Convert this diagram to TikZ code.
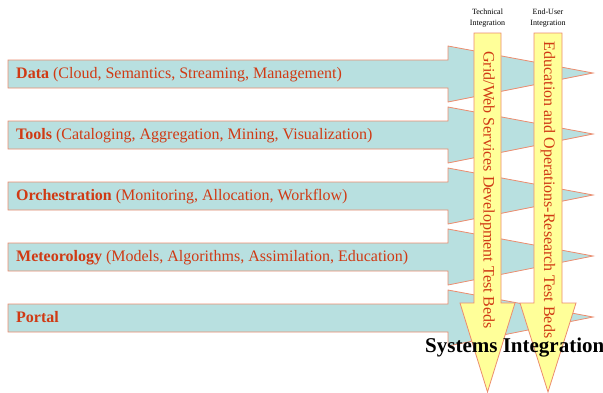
\documentclass[tikz,border=0pt]{standalone}
\usepackage{fontspec}
\setmainfont{Liberation Serif}
\usepackage{tikz}
\usepackage{color}

\definecolor{bandfill}{RGB}{184,224,224}
\definecolor{edgecol}{RGB}{236,140,110}
\definecolor{bedfill}{RGB}{255,255,153}
\definecolor{labelred}{RGB}{208,58,20}

\begin{document}
\begin{tikzpicture}[x=1pt,y=-1pt,
    band/.style={fill=bandfill,draw=edgecol,line width=0.8pt},
    bed/.style={fill=bedfill,draw=edgecol,line width=0.8pt},
    bandtext/.style={anchor=base west,inner sep=0pt,text=labelred,font=\fontsize{16}{18}\selectfont},
    bedtext/.style={rotate=-90,inner sep=0pt,text=labelred,font=\fontsize{16}{18}\selectfont},
    toptext/.style={align=center,inner sep=0pt,text=black,font=\fontsize{8}{11}\selectfont}]
    \useasboundingbox (0,0) rectangle (603,392);
    % horizontal arrows, one per area
    \foreach \y/\name/\head/\rest in {
        74/data/Data/{(Cloud, Semantics, Streaming, Management)},
        135/tools/Tools/{(Cataloging, Aggregation, Mining, Visualization)},
        196/orch/Orchestration/{(Monitoring, Allocation, Workflow)},
        257/meteo/Meteorology/{(Models, Algorithms, Assimilation, Education)},
        318/portal/Portal/{}}
    {
        \draw[band] (8,\y-14) -- (448,\y-14) -- (448,\y-28) -- (593,\y-1)
            -- (448,\y+28) -- (448,\y+14) -- (8,\y+14) -- cycle;
        \node[bandtext] (\name) at (16,\y+4.5) {\textbf{\head} \rest};
    }
    % vertical arrows for the test beds
    \draw[bed] (474,33) -- (501,33) -- (501,303) -- (515,303) -- (487.5,392)
        -- (460,303) -- (474,303) -- cycle;
    \draw[bed] (534,33) -- (562,33) -- (562,303) -- (576,303) -- (548,392)
        -- (520,303) -- (534,303) -- cycle;
    \node[bedtext] (gridbed) at (487.5,190) {Grid/Web Services Development Test Beds};
    \node[bedtext] (edubed) at (548,190) {Education and Operations-Research Test Beds};
    % labels on top
    \node[toptext] (techtop) at (487.5,18) {Technical\\Integration};
    \node[toptext] (usertop) at (548,18) {End-User\\Integration};
    \node[anchor=base west,inner sep=0pt,font=\bfseries\fontsize{21}{24}\selectfont] (sysint) at (425,352) {Systems Integration};
\end{tikzpicture}
\end{document}
